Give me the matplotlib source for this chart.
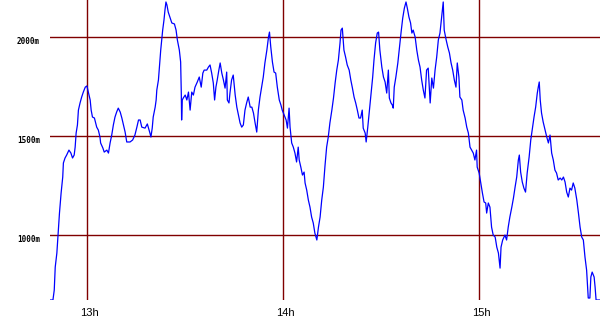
import matplotlib
matplotlib.use("Agg")
from matplotlib import pyplot as plt
from matplotlib import transforms as mtrans

# tiempo en minutos desde las 12h, altitud en metros
minutos = [48.8, 49.7, 50.1, 50.4, 50.9, 51.3, 51.7, 52.2, 52.7, 52.9, 53.4, 53.9, 54.6, 55.2, 55.7, 56.2,
           56.5, 56.8, 57.2, 57.5, 58.0, 58.5, 59.0, 59.6, 60.1, 60.6, 61.1, 61.4, 61.8, 62.4, 63.1, 63.6,
           64.1, 64.3, 65.0, 65.4, 66.2, 66.7, 67.2, 67.7, 68.2, 68.7, 69.2, 69.7, 70.3, 70.8, 71.3, 71.8,
           72.3, 73.3, 74.1, 74.8, 75.4, 75.9, 76.4, 76.9, 77.9,
           78.6, 79.4, 79.7, 80.1, 80.4, 81.0, 81.3, 81.5, 82.0, 82.3, 82.7, 83.0, 83.3, 83.7, 84.0, 84.3,
           84.6, 85.0, 85.6, 86.1, 86.9, 87.4, 87.8, 88.4, 88.8, 89.0, 89.1, 89.3, 89.6, 90.2, 90.7, 91.2,
           91.7, 92.2, 92.7, 93.2, 93.9, 94.5, 95.1, 95.6, 96.0, 96.8, 97.3, 97.8, 98.3, 98.8, 99.2, 99.6,
           100.0, 100.5, 100.9, 101.4, 101.9, 102.4, 102.9, 103.1, 103.6, 103.9, 104.4, 104.9, 105.5,
           106.0, 106.5, 107.0, 107.5, 108.0, 108.5, 109.0, 109.5, 110.1, 110.6, 111.1, 111.6, 112.1,
           112.6, 113.1, 113.6, 114.1, 114.6, 115.2, 115.7, 116.0, 116.4, 116.9, 117.4, 117.9, 118.4,
           119.0, 119.5, 119.9, 120.5, 121.1, 121.5, 122.0, 122.3, 122.8, 123.3, 123.8, 124.3, 124.8,
           125.1, 125.6, 126.1, 126.6, 126.9, 127.4, 127.9, 128.4, 128.9, 129.4, 129.9, 130.5, 131.0,
           131.5, 132.0, 132.5, 133.0,
           133.5, 134.0, 134.5, 135.1, 135.6, 136.1, 136.6, 137.1, 137.6, 137.9, 138.3, 138.8, 139.3,
           139.8, 140.4, 140.9, 141.4, 141.9, 142.4, 142.9, 143.4, 143.9, 144.4, 144.7, 145.3, 145.6,
           146.1, 146.6, 147.1, 147.6, 148.0, 148.5, 149.0, 149.4, 149.8, 150.4, 150.9, 151.4, 151.9,
           152.4, 152.7, 153.2, 153.6, 153.9, 154.2, 154.7, 155.3, 155.8, 156.3, 156.8, 157.3, 157.8,
           158.2, 158.7, 159.2, 159.6, 160.0, 160.6,
           161.1, 161.6, 162.1, 162.6, 163.1, 163.6, 164.1, 164.6, 165.2, 165.7, 166.2, 166.7, 167.2,
           167.7, 168.2, 168.7, 169.2, 169.5, 170.1, 170.6, 171.1, 171.6, 172.1, 172.6, 173.1, 173.5,
           174.0, 174.3, 174.9, 175.3, 175.9, 176.4, 176.9, 177.4, 177.9, 178.4, 178.9, 179.4, 179.6,
           180.2, 180.7, 181.2, 181.7, 182.2, 182.5, 183.0, 183.5, 184.0, 184.5, 185.1, 185.6, 186.1,
           186.6, 186.9, 187.4, 188.1,
           188.6, 189.1, 189.6, 190.2, 190.7, 191.2, 191.7, 192.2, 192.5, 192.9, 193.4, 193.9, 194.4,
           194.9, 195.5, 196.0, 196.5, 197.0, 197.5, 198.0, 198.3, 198.6, 198.9, 199.3, 199.8, 200.4,
           200.9, 201.4, 201.9, 202.4, 202.9, 203.4, 203.9, 204.4, 205.0, 205.5, 206.0, 206.5, 207.0,
           207.5, 208.0, 208.5, 209.0, 209.5, 210.1, 210.6, 211.1, 211.6, 212.1, 212.6, 213.1, 213.4,
           213.6, 214.1, 214.4, 214.8, 215.4, 215.7, 216.0, 217.2]

altitud = [672, 672, 722, 838, 909, 1010, 1111, 1212, 1293, 1364, 1389, 1404, 1429, 1414, 1389, 1404,
           1444, 1515, 1556, 1631, 1667, 1697, 1722, 1747, 1753, 1717, 1682, 1631, 1596, 1591, 1545, 1530,
           1495, 1465, 1439, 1419, 1429, 1414, 1465, 1505, 1556, 1596, 1621, 1641, 1621, 1591, 1556, 1520,
           1470, 1470, 1480, 1505, 1545, 1581, 1581, 1545, 1540,
           1561, 1515, 1495, 1540, 1596, 1646, 1682, 1732, 1783, 1848, 1934, 1985, 2035, 2086, 2136, 2177,
           2162, 2126, 2096, 2071, 2066, 2035, 1985, 1934, 1874, 1717, 1581, 1682, 1692, 1707, 1682, 1722,
           1631, 1722, 1707, 1747, 1773, 1798, 1747, 1818, 1833, 1833, 1848, 1859, 1818, 1768, 1682, 1747,
           1783, 1833, 1869, 1818, 1783, 1742, 1823, 1682, 1667, 1717, 1783, 1808, 1707,
           1646, 1606, 1566, 1545, 1556, 1631, 1667, 1697, 1646, 1646, 1616, 1566, 1520,
           1631, 1697, 1747, 1798, 1869, 1934, 2000, 2025, 1949, 1874, 1823, 1818, 1747,
           1682, 1657, 1631, 1606, 1581, 1540, 1641, 1545, 1465, 1444, 1414, 1369, 1444,
           1379, 1343, 1303, 1318, 1263, 1227, 1177, 1141, 1091, 1061, 1010, 975, 1040,
           1091, 1177, 1242, 1350,
           1444, 1495, 1566, 1631, 1692, 1768, 1833, 1884, 1970, 2035, 2045, 1934, 1899,
           1859, 1833, 1783, 1742, 1697, 1667, 1631, 1591, 1591, 1631, 1540, 1515, 1470,
           1545, 1631, 1717, 1798, 1884, 1970, 2020, 2025, 1934, 1848, 1798, 1773, 1717,
           1833, 1692, 1667, 1657, 1641, 1747, 1798, 1869, 1949, 2025, 2096, 2146, 2177,
           2146, 2101, 2071, 2020, 2035, 2000,
           1934, 1884, 1848, 1783, 1732, 1692, 1833, 1843, 1667, 1793, 1742, 1833, 1899,
           1985, 2020, 2101, 2177, 2035, 1985, 1949, 1919, 1869, 1833, 1783, 1747, 1869,
           1798, 1697, 1682, 1631, 1591, 1545, 1515, 1444, 1429, 1414, 1379, 1429, 1343,
           1313, 1263, 1212, 1167, 1162, 1111, 1162, 1141, 1040, 1000, 990, 939, 909,
           833, 939, 975, 1000,
           975, 1040, 1091, 1141, 1187, 1242, 1293, 1379, 1404, 1318, 1268, 1237, 1217,
           1313, 1394, 1480, 1540, 1596, 1646, 1717, 1747, 1773, 1682, 1616, 1571, 1530,
           1495, 1465, 1505, 1414, 1379, 1328, 1313, 1278, 1288, 1278, 1293, 1268, 1217,
           1192, 1237, 1227, 1263, 1237, 1177, 1111, 1040, 990, 975, 889, 823, 737,
           682, 682, 788, 813, 788, 737, 672, 672]

horas = [60, 120, 180]
etiquetas_x = ["13h", "14h", "15h"]
niveles = [1000, 1500, 2000]
etiquetas_y = ["1000m", "1500m", "2000m"]

rojo = "#800000"

fig = plt.figure(figsize=(6, 3.3), dpi=100)
ax = fig.add_axes([50 / 600, 30 / 330, 550 / 600, 300 / 330])
ax.set_xlim(48.8, 217.2)
ax.set_ylim(672, 2187)
for s in ax.spines.values():
    s.set_visible(False)
ax.set_xticks([])
ax.set_yticks([])

for h in horas:
    ax.axvline(h, color=rojo, lw=1.0, zorder=1)
for n in niveles:
    ax.axhline(n, color=rojo, lw=1.0, zorder=1)

ax.plot(minutos, altitud, color="#0000ff", lw=0.9, zorder=2)

# etiquetas
bx = mtrans.blended_transform_factory(ax.transData, ax.transAxes)
off_x = mtrans.ScaledTranslation(3 / 100, -13 / 100, fig.dpi_scale_trans)
for h, t in zip(horas, etiquetas_x):
    ax.text(h, 0, t, transform=bx + off_x, ha="center", va="center",
            fontsize=8, family="Liberation Sans")

by = mtrans.blended_transform_factory(ax.transAxes, ax.transData)
off_y = mtrans.ScaledTranslation(-10 / 100, -4 / 100, fig.dpi_scale_trans)
for n, t in zip(niveles, etiquetas_y):
    ax.text(0, n, t, transform=by + off_y, ha="right", va="center",
            fontsize=5.5, family="DejaVu Sans Mono", fontweight="bold")

fig.savefig("out.png", dpi=100)
